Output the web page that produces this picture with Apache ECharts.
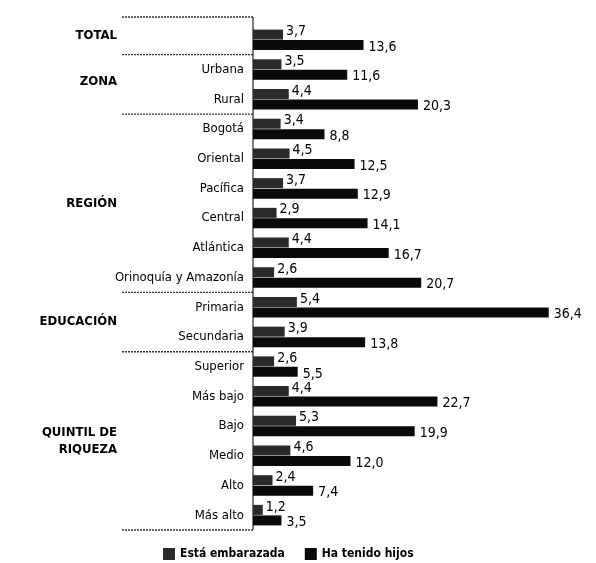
<!DOCTYPE html>
<html><head><meta charset="utf-8">
<script src="https://cdn.jsdelivr.net/npm/echarts@6/dist/echarts.min.js"></script>
<style>html,body{margin:0;padding:0;background:#fff}#c{width:596px;height:563px}</style>
</head><body><div id="c"></div>
<script>
const categories = ['TOTAL','Urbana','Rural','Bogotá','Oriental','Pacífica','Central','Atlántica','Orinoquía y Amazonía','Primaria','Secundaria','Superior','Más bajo','Bajo','Medio','Alto','Más alto'];
const embarazada = [3.7,3.5,4.4,3.4,4.5,3.7,2.9,4.4,2.6,5.4,3.9,2.6,4.4,5.3,4.6,2.4,1.2];
const hijos = [13.6,11.6,20.3,8.8,12.5,12.9,14.1,16.7,20.7,36.4,13.8,5.5,22.7,19.9,12.0,7.4,3.5];
const groupNames = ['TOTAL','ZONA','REGIÓN','EDUCACIÓN','QUINTIL DE\nRIQUEZA'];
const groupStart = [0,1,3,9,11];
const groupEnd = [0,2,8,10,16];
const seriesNames = ['Está embarazada','Ha tenido hijos'];

const FONT = '"DejaVu Sans Condensed", "Liberation Sans Narrow", sans-serif';
const chart = echarts.init(document.getElementById('c'), null, {renderer:'canvas'});
const fmt = p => p.value.toFixed(1).replace('.', ',');
chart.setOption({
  backgroundColor:'#fff',
  animation:false,
  grid:{left:253, top:25, width:325, height:505},
  xAxis:{type:'value', min:0, max:40, show:false},
  yAxis:{type:'category', data:categories, inverse:true,
    axisLine:{show:false}, axisTick:{show:false},
    axisLabel:{margin:9, fontFamily:FONT, fontSize:13, color:'#000',
      formatter:(v,i)=> i===0 ? '' : v}},
  legend:{left:158, top:543, itemWidth:12, itemHeight:12, itemGap:20, icon:'rect',
    textStyle:{fontFamily:FONT, fontSize:12, fontWeight:'bold', color:'#000'},
    data:seriesNames},
  series:[
    {name:seriesNames[0], type:'bar', data:embarazada, barWidth:10, barGap:'5%',
     itemStyle:{color:'#2a2a2a'},
     label:{show:true, position:'right', distance:3, offset:[0,-3], formatter:fmt,
       fontFamily:FONT, fontSize:14, color:'#000'}},
    {name:seriesNames[1], type:'bar', data:hijos, barWidth:10,
     itemStyle:{color:'#0a0a0a'},
     label:{show:true, position:'right', distance:5, offset:[0,2], formatter:fmt,
       fontFamily:FONT, fontSize:14, color:'#000'}}
  ]
});

const py = i => chart.convertToPixel({yAxisIndex:0}, i);
const band = py(1) - py(0);
const xL = 122, xA = 253;
const graphics = [];
const topY = py(0) - band/2 - 8;
const boundaries = [topY];
groupEnd.forEach(e => boundaries.push(py(e) + band/2));
boundaries.forEach(y => graphics.push({type:'line', shape:{x1:xL, y1:y, x2:xA, y2:y},
  style:{stroke:'#333', lineWidth:1.3, lineDash:[2,1]}}));
graphics.push({type:'line', shape:{x1:xA, y1:topY, x2:xA, y2:boundaries[boundaries.length-1]},
  style:{stroke:'#222', lineWidth:1.2}});
groupNames.forEach((g,k) => {
  const y = (py(groupStart[k]) + py(groupEnd[k]))/2 - (k===0?4:(k===1?3:0));
  graphics.push({type:'text', x:117, y:y, style:{text:g, align:'right', verticalAlign:'middle',
    font:'bold 13px ' + FONT, fill:'#000', lineHeight:17}});
});
chart.setOption({graphic:graphics});
</script></body></html>
